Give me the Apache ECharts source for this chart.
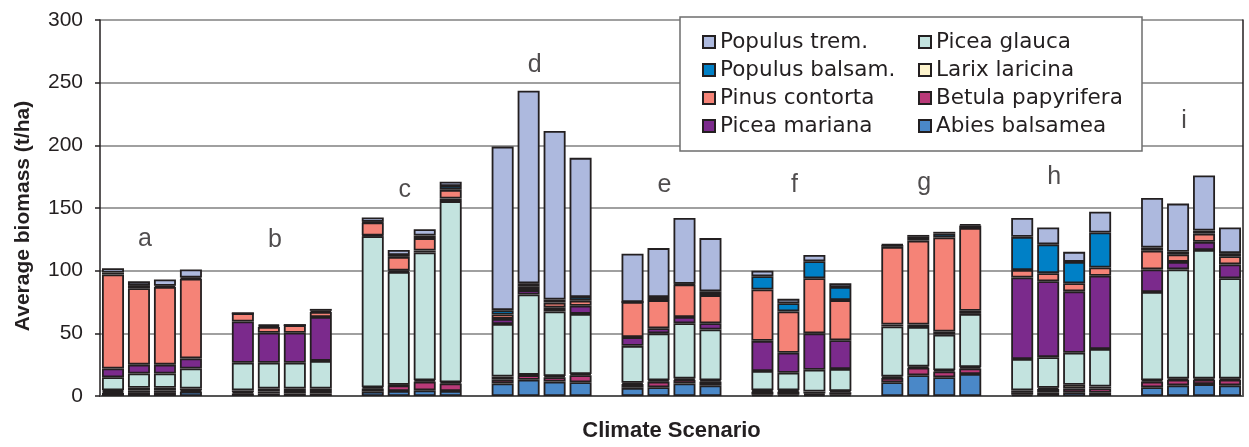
<!DOCTYPE html>
<html>
<head>
<meta charset="utf-8">
<script src="https://cdn.jsdelivr.net/npm/echarts@6/dist/echarts.min.js"></script>
<style>
  html, body { margin: 0; padding: 0; background: #ffffff; }
  #chart { width: 1249px; height: 447px; }
</style>
</head>
<body>
<div id="chart"></div>
<script>
// Climate scenarios (a–i), four runs each
const scenarios = ['a', 'b', 'c', 'd', 'e', 'f', 'g', 'h', 'i'];
const runsPerScenario = 4;

// Average biomass (t/ha) per species, 4 runs per scenario, stacked bottom to top
const abiesBalsamea     = [2.5,2.5,2.5,3.5, 2,2,2,2, 3.5,4,4.5,4, 10,13,11.5,11, 6.5,7,10,8.5, 1,1,1,1, 11,16.5,15,17.5, 1,2.5,3,2.5, 7,8.5,9.5,8.5];
const betulaPapyrifera  = [1,2,2,1, 1,1.5,2,2, 2.5,4.5,7,6, 3,3.5,3.5,5.5, 3,4.5,3,3, 2.5,2.5,1,2, 3.5,6,4.5,4.5, 1.5,3,3,3.5, 4.5,4.5,3.5,4.5];
const larixLaricina     = [1,2,2,1.5, 1.5,2.5,2,2, 1,0.5,1,1, 2.5,0.5,1,1, 1,1,1,1, 1,1,1.5,1, 1,1,1,1, 2,1,3,1.5, 1,1,1,1];
const piceaGlauca       = [10.5,11.5,11.5,16, 22,20.5,20.5,22, 120.5,90,102,144.5, 42,64,51.5,48, 29.5,37.5,44,40.5, 15.5,14,17.5,17.5, 40,31.5,28.5,42.5, 25,24.5,25.5,30, 70.5,87,102.5,80];
const piceaMariana      = [7,7,7,8, 33,24,24,35, 0.5,1,1.5,2, 4,3.5,3,6.5, 7,4,5,5, 24,16,29,23, 1.5,2,2.5,2.5, 65,60.5,49,58.5, 18,6,6.5,11];
const pinusContorta     = [75,61,62,63.5, 6.5,4.5,6,4, 10.5,11,10,7, 3.5,3,4,4, 28,22.5,26,22.5, 41,33,44,32, 62,67,75,66, 6,6.5,6.5,6.5, 15,6,6.5,6.5];
const populusBalsam     = [1.5,2.5,1,1, 0,1,0,1, 0.5,1.5,2,3, 3.5,2.5,2.5,3, 0,2.5,0.5,3, 10.5,6.5,13.5,10.5, 1.5,3,3,2, 26.5,23,17,28, 2.5,2,2.5,2.5];
const populusTrem       = [3.5,3,5,6.5, 0,1,0,1.5, 3.5,4,5,3.5, 130.5,153.5,134.5,111, 38.5,39,52.5,42.5, 4.5,3.5,5,3, 0.5,1.5,1.5,1, 15,13.5,8,16.5, 39.5,38.5,44,20.5];

// Height (t/ha) at which each scenario letter sits above its bars
const scenarioLabelHeight = [125, 124, 164, 264, 168, 168, 170, 175, 219];

const yTicks = [0, 50, 100, 150, 200, 250, 300];

const species = [
  { name: 'Abies balsamea',    data: abiesBalsamea,    color: '#4a88c8' },
  { name: 'Betula papyrifera', data: betulaPapyrifera, color: '#b93a78' },
  { name: 'Larix laricina',    data: larixLaricina,    color: '#fdf3cc' },
  { name: 'Picea glauca',      data: piceaGlauca,      color: '#c3e3df' },
  { name: 'Picea mariana',     data: piceaMariana,     color: '#7b2a8c' },
  { name: 'Pinus contorta',    data: pinusContorta,    color: '#f58377' },
  { name: 'Populus balsam.',   data: populusBalsam,    color: '#0080c6' },
  { name: 'Populus trem.',     data: populusTrem,      color: '#adb9de' }
];

const legendOrder = [
  'Populus trem.', 'Populus balsam.', 'Pinus contorta', 'Picea mariana',
  'Picea glauca', 'Larix laricina', 'Betula papyrifera', 'Abies balsamea'
];

// Slots on the x axis: each run gets one slot, an empty slot separates scenarios
const slots = [];
scenarios.forEach((s, k) => {
  for (let r = 0; r < runsPerScenario; r++) slots.push(s + (r + 1));
  if (k < scenarios.length - 1) slots.push('gap' + k);
});

function spread(values) {
  const out = [];
  scenarios.forEach((s, k) => {
    for (let r = 0; r < runsPerScenario; r++) out.push(values[k * runsPerScenario + r]);
    if (k < scenarios.length - 1) out.push('-');
  });
  return out;
}

const font = '"Liberation Sans", Arial, sans-serif';
const barSeries = species.map(sp => ({
  name: sp.name,
  type: 'bar',
  stack: 'biomass',
  barWidth: 22,
  data: spread(sp.data),
  itemStyle: { color: sp.color, borderColor: '#231f20', borderWidth: 1.8 },
  emphasis: { disabled: true }
}));

// Scenario letters, centred over each group of four runs
const letterSeries = {
  type: 'scatter',
  symbolSize: 0,
  silent: true,
  z: 5,
  data: scenarios.map((s, k) => [k * (runsPerScenario + 1) + 1, scenarioLabelHeight[k]]),
  label: {
    show: true,
    position: 'inside',
    offset: [6, 0],
    formatter: p => scenarios[p.dataIndex],
    fontFamily: font,
    fontSize: 25,
    color: '#231f20'
  }
};

const chart = echarts.init(document.getElementById('chart'), null, { renderer: 'canvas' });
chart.setOption({
  animation: false,
  backgroundColor: '#ffffff',
  grid: { left: 100, right: 6, top: 20, bottom: 48.5, containLabel: false },
  legend: {
    data: legendOrder,
    orient: 'vertical',
    left: 680,
    top: 17,
    height: 120,
    padding: [14, 14, 14, 22],
    itemGap: 6,
    itemWidth: 12,
    itemHeight: 12,
    icon: 'rect',
    backgroundColor: '#ffffff',
    borderColor: '#6d6d6d',
    borderWidth: 1.5,
    textStyle: {
      fontFamily: '"DejaVu Sans", sans-serif',
      fontSize: 21.5,
      lineHeight: 20,
      color: '#231f20',
      width: 192
    }
  },
  xAxis: {
    type: 'category',
    data: slots,
    name: 'Climate Scenario',
    nameLocation: 'middle',
    nameGap: 24,
    nameTextStyle: { fontFamily: font, fontSize: 22, fontWeight: 'bold', color: '#231f20', lineHeight: 22 },
    axisLine: { lineStyle: { color: '#555555', width: 2 } },
    axisTick: { show: false },
    axisLabel: { show: false },
    splitLine: { show: false }
  },
  yAxis: [{
    type: 'value',
    min: yTicks[0],
    max: yTicks[yTicks.length - 1],
    interval: yTicks[1] - yTicks[0],
    name: 'Average biomass (t/ha)',
    nameLocation: 'middle',
    nameGap: 66,
    nameTextStyle: { fontFamily: font, fontSize: 21, fontWeight: 'bold', color: '#231f20', padding: [0, 16, 0, 0] },
    axisLine: { show: true, lineStyle: { color: '#231f20', width: 1.5 } },
    axisTick: { show: true, inside: false, length: 5, lineStyle: { color: '#231f20', width: 1.5 } },
    axisLabel: { fontFamily: font, fontSize: 21, color: '#231f20', margin: 17 },
    splitLine: { show: true, lineStyle: { color: '#808080', width: 1.5 } }
  }, {
    type: 'value',
    position: 'right',
    min: yTicks[0],
    max: yTicks[yTicks.length - 1],
    axisLine: { show: true, lineStyle: { color: '#231f20', width: 1.5 } },
    axisTick: { show: false },
    axisLabel: { show: false },
    splitLine: { show: false }
  }],
  series: [...barSeries, letterSeries]
});
</script>
</body>
</html>
